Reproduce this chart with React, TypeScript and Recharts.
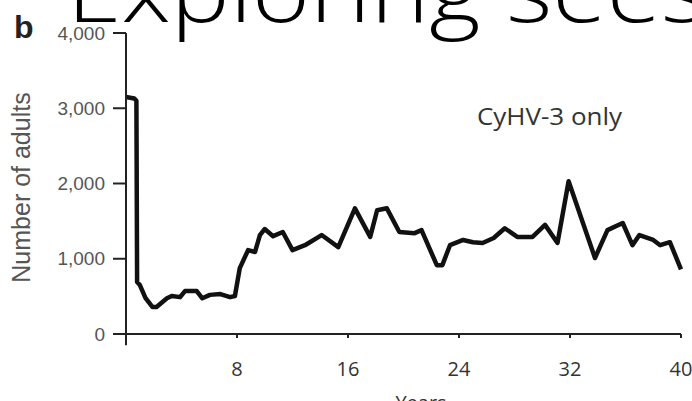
import { LineChart, Line, XAxis, YAxis, ReferenceLine } from 'recharts';

// Simulated adult population, CyHV-3 only scenario
const years = [
  0, 0.6, 0.75, 0.8, 1.0, 1.4, 1.9, 2.2, 2.95, 3.3, 3.9, 4.25, 5.1, 5.5, 6.05, 6.8, 7.5, 7.85,
  8.2, 8.8, 9.3, 9.65, 10.0, 10.6, 11.3, 12.0, 12.9, 14.1, 15.3, 16.5, 17.6, 18.1, 18.8, 19.7,
  20.8, 21.3, 22.4, 22.8, 23.35, 24.3, 25.0, 25.7, 26.5, 27.3, 28.2, 29.3, 30.2, 31.1, 31.9,
  33.8, 34.7, 35.8, 36.5, 37.0, 38.0, 38.5, 39.2, 40.0,
];
const adults = [
  3150, 3130, 3100, 690, 650, 480, 360, 360, 475, 505, 490, 570, 570, 475, 520, 530, 490, 505,
  875, 1115, 1090, 1315, 1395, 1300, 1355, 1115, 1180, 1315, 1155, 1670, 1290, 1645, 1670, 1355,
  1340, 1380, 915, 915, 1180, 1250, 1220, 1210, 1275, 1405, 1290, 1290, 1450, 1210, 2030,
  1010, 1380, 1475, 1180, 1315, 1250, 1180, 1220, 860,
];
const yTicks = [0, 1000, 2000, 3000, 4000];
const xTicks = [8, 16, 24, 32, 40];

const chartData = years.map((year, i) => ({ year, adults: adults[i] }));

const sans = '"Liberation Sans", Arial, sans-serif';
const open = '"Open Sans", sans-serif';

export default function App() {
  return (
    <div style={{ position: 'absolute', left: 0, top: 0, width: 692, height: 401, background: '#fff', overflow: 'hidden' }}>
      <LineChart width={692} height={401} data={chartData} margin={{ top: 33, right: 11, bottom: 0, left: 0 }}>
        <XAxis
          dataKey="year"
          type="number"
          domain={[0, 40]}
          ticks={xTicks}
          height={67}
          tickSize={4}
          tickMargin={24}
          axisLine={{ stroke: '#222', strokeWidth: 2 }}
          tickLine={{ stroke: '#222', strokeWidth: 2 }}
          tick={{ fontSize: 20, fill: '#333', fontFamily: open }}
        />
        <YAxis
          type="number"
          domain={[0, 4000]}
          ticks={yTicks}
          width={126}
          tickSize={13}
          tickMargin={8}
          tickFormatter={(v: number) => v.toLocaleString('en-US')}
          axisLine={{ stroke: '#222', strokeWidth: 2 }}
          tickLine={{ stroke: '#222', strokeWidth: 2 }}
          tick={{ fontSize: 19, fill: '#555', fontFamily: sans }}
        />
        <ReferenceLine
          segment={[{ x: 0, y: 0 }, { x: 0, y: -150 }]}
          stroke="#222"
          strokeWidth={2}
          ifOverflow="visible"
        />
        <Line
          type="linear"
          dataKey="adults"
          stroke="#111"
          strokeWidth={4.5}
          strokeLinejoin="round"
          dot={false}
          isAnimationActive={false}
        />
      </LineChart>
      <svg width={692} height={401} style={{ position: 'absolute', left: 0, top: 0, pointerEvents: 'none' }}>
        <text
          x={67}
          y={22}
          fontSize={84}
          fontWeight={300}
          fontFamily={open}
          fill="#000"
          textLength={640}
          lengthAdjust="spacingAndGlyphs"
        >
          Exploring sees
        </text>
        <text x={14} y={38} fontSize={32} fontWeight="bold" fontFamily={sans} fill="#222">b</text>
        <text
          transform="translate(30,187.5) rotate(-90)"
          textAnchor="middle"
          fontSize={25}
          fontFamily={sans}
          fill="#555"
        >
          Number of adults
        </text>
        <text x={477} y={125} fontSize={23} fontFamily={open} fill="#333" textLength={145} lengthAdjust="spacingAndGlyphs">
          CyHV-3 only
        </text>
        <text x={421} y={410} textAnchor="middle" fontSize={20} fontFamily={open} fill="#333">Years</text>
      </svg>
    </div>
  );
}
